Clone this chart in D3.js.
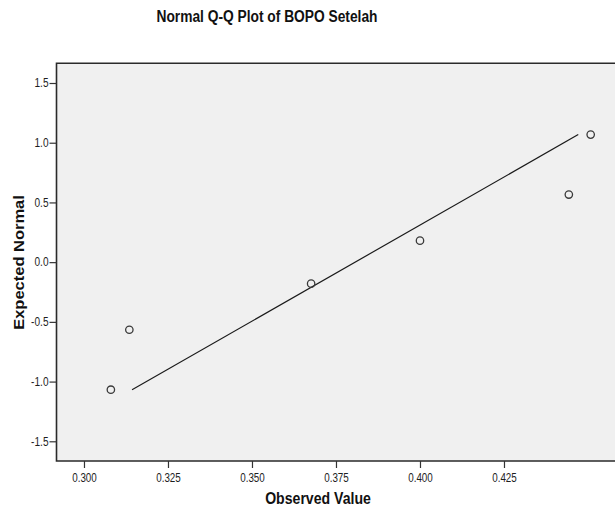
<!DOCTYPE html>
<html>
<head>
<meta charset="utf-8">
<script src="https://cdn.jsdelivr.net/npm/d3@7"></script>
<style>
  html, body { margin: 0; padding: 0; background: #ffffff; }
  svg { display: block; font-family: Arial, "Liberation Sans", sans-serif; }
</style>
</head>
<body>
<svg id="chart" width="615" height="512"></svg>
<script>
// ---- data ----
const title = "Normal Q-Q Plot of BOPO Setelah";
const xLabel = "Observed Value";
const yLabel = "Expected Normal";
const observed = [0.3080, 0.3135, 0.3676, 0.4000, 0.4443, 0.4508];
const expected = [-1.068, -0.566, -0.180, 0.180, 0.566, 1.068];
const lineObserved = [0.3143, 0.4471];
const lineExpected = [-1.068, 1.068];
const xTicks = [0.300, 0.325, 0.350, 0.375, 0.400, 0.425];
const yTicks = [-1.5, -1.0, -0.5, 0.0, 0.5, 1.0, 1.5];

// ---- layout ----
const svg = d3.select("#chart");
const plotLeft = 56.5, plotTop = 63.3, plotBottom = 461, plotRight = 640;
const squeeze = 0.84;

const x = d3.scaleLinear().domain([0.29182, 0.46548]).range([plotLeft, plotRight]);
const y = d3.scaleLinear().domain([-1.665, 1.665]).range([plotBottom, plotTop]);

function condense(sel, ratio) {
  sel.each(function () {
    const len = this.getComputedTextLength();
    d3.select(this).attr("textLength", len * ratio).attr("lengthAdjust", "spacingAndGlyphs");
  });
}

// plot background
svg.append("rect")
  .attr("x", plotLeft).attr("y", plotTop)
  .attr("width", plotRight - plotLeft).attr("height", plotBottom - plotTop)
  .attr("fill", "#f0f0f0");

// reference line
svg.append("line")
  .attr("x1", x(lineObserved[0])).attr("y1", y(lineExpected[0]))
  .attr("x2", x(lineObserved[1])).attr("y2", y(lineExpected[1]))
  .attr("stroke", "#1a1a1a").attr("stroke-width", 1.2);

// points
svg.append("g").selectAll("circle")
  .data(observed.map((v, i) => [v, expected[i]]))
  .join("circle")
  .attr("cx", d => x(d[0])).attr("cy", d => y(d[1]))
  .attr("r", 3.7)
  .attr("fill", "none").attr("stroke", "#3a3a3a").attr("stroke-width", 1.3);

// frame
svg.append("path")
  .attr("d", `M${plotRight},${plotTop}H${plotLeft}V${plotBottom}H${plotRight}`)
  .attr("fill", "none").attr("stroke", "#2a2a2a").attr("stroke-width", 1.6);

// axes
const yAxis = svg.append("g")
  .attr("transform", `translate(${plotLeft},0)`)
  .call(d3.axisLeft(y).tickValues(yTicks).tickSize(7).tickPadding(1).tickFormat(d3.format(".1f")));
yAxis.select(".domain").remove();
yAxis.selectAll("line").attr("stroke", "#333").attr("stroke-width", 1.2);
yAxis.selectAll("text").attr("font-size", 12).attr("fill", "#1e1e1e")
  .attr("font-family", "Arial, 'Liberation Sans', sans-serif")
  .text(d => d3.format(".1f")(d).replace("−", "-"))
  .call(condense, squeeze);

const xAxis = svg.append("g")
  .attr("transform", `translate(0,${plotBottom})`)
  .call(d3.axisBottom(x).tickValues(xTicks).tickSize(7).tickPadding(5).tickFormat(d3.format(".3f")));
xAxis.select(".domain").remove();
xAxis.selectAll("line").attr("stroke", "#333").attr("stroke-width", 1.2);
xAxis.selectAll("text").attr("font-size", 12).attr("fill", "#1e1e1e")
  .attr("font-family", "Arial, 'Liberation Sans', sans-serif")
  .call(condense, 0.82);

// title
svg.append("text")
  .attr("x", 267).attr("y", 22)
  .attr("text-anchor", "middle")
  .attr("font-size", 16).attr("font-weight", "bold").attr("fill", "#111")
  .text(title)
  .call(condense, 0.86);

// x label
svg.append("text")
  .attr("x", 318).attr("y", 504)
  .attr("text-anchor", "middle")
  .attr("font-size", 16).attr("font-weight", "bold").attr("fill", "#111")
  .text(xLabel)
  .call(condense, 0.88);

// y label
svg.append("text")
  .attr("transform", `translate(23.5,262.5) scale(0.88,1) rotate(-90)`)
  .attr("text-anchor", "middle")
  .attr("font-size", 16.5).attr("font-weight", "bold").attr("fill", "#111")
  .text(yLabel);
</script>
</body>
</html>
